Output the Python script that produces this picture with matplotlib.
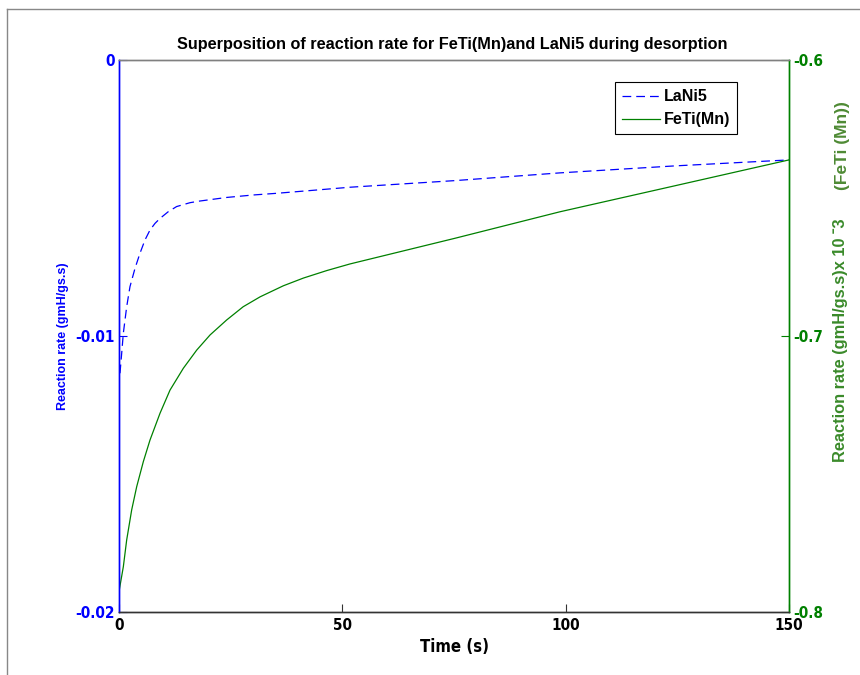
import matplotlib
matplotlib.use("Agg")
import matplotlib.pyplot as plt
from matplotlib import font_manager as fm
from matplotlib.lines import Line2D

# ---------------- data ----------------
t_lani5 = [0.22, 0.6, 0.97, 1.72, 2.46, 3.58, 4.70, 5.82, 6.94, 8.06, 9.18, 11.0,
           12.9, 15.9, 18.1, 24.1, 30.1, 35.3, 42.8, 51.7, 75.2, 98.7, 124.1, 150]
v_lani5 = [-0.01135, -0.01063, -0.00990, -0.00894, -0.00821, -0.00755, -0.00700,
           -0.00652, -0.00616, -0.00592, -0.00574, -0.00550, -0.00531, -0.00517,
           -0.00511, -0.00498, -0.00489, -0.00483, -0.00473, -0.00461, -0.00437,
           -0.00409, -0.00384, -0.00362]

t_feti = [0.0, 0.97, 1.72, 2.84, 3.96, 5.45, 6.94, 9.18, 11.42, 14.4, 17.4, 20.4,
          24.1, 27.8, 31.6, 36.8, 41.3, 46.5, 51.7, 75.2, 98.7, 124.1, 150]
v_feti = [-0.7926, -0.7836, -0.7739, -0.7630, -0.7546, -0.7455, -0.7377, -0.7280,
          -0.7196, -0.7117, -0.7051, -0.6996, -0.6942, -0.6894, -0.6858, -0.6818,
          -0.6790, -0.6763, -0.6739, -0.6646, -0.6550, -0.6457, -0.6362]

x_ticks = [0, 50, 100, 150]
left_ticks = [-0.02, -0.01, 0]
left_ticklabels = ["-0.02", "-0.01", "0"]
right_ticks = [-0.8, -0.7, -0.6]
right_ticklabels = ["-0.8", "-0.7", "-0.6"]

title = "Superposition of reaction rate for FeTi(Mn)and LaNi5 during desorption"
xlabel = "Time (s)"
ylabel_left = "Reaction rate (gmH/gs.s)"
ylabel_right = "Reaction rate (gmH/gs.s)x 10 \u02c93"
ylabel_right2 = "(FeTi (Mn))"

# ---------------- fonts ----------------
names = {f.name for f in fm.fontManager.ttflist}
SANS = "Liberation Sans" if "Liberation Sans" in names else "DejaVu Sans"
plt.rcParams["font.family"] = [SANS, "DejaVu Sans"]


def _weight_num(w):
    if isinstance(w, (int, float)):
        return w
    return {"bold": 700, "heavy": 800, "black": 900, "semibold": 600,
            "demibold": 600}.get(str(w).lower(), 400)


narrow_file = None
best = None
for f in fm.fontManager.ttflist:
    nm = f.name.lower()
    st = str(f.stretch).lower()
    is_narrow = ("narrow" in nm or "condensed" in nm or st in ("condensed", "semi-condensed",
                                                                "extra-condensed"))
    if not is_narrow or "mono" in nm or "serif" in nm and "sans" not in nm:
        continue
    if _weight_num(f.weight) < 600 or str(f.style) != "normal":
        continue
    score = 0 if "liberation sans narrow" in nm else (1 if "sans" in nm else 2)
    if best is None or score < best:
        best = score
        narrow_file = f.fname

if narrow_file:
    def NP(size):
        return fm.FontProperties(fname=narrow_file, size=size)
    TICK_SIZE = 11
else:
    def NP(size):
        return fm.FontProperties(family=SANS, weight="bold", size=size)
    TICK_SIZE = 10

BLUE = "#0000ff"
GREEN = "#008000"
LGREEN = "#3a8a2a"

W, H = 860, 675
fig = plt.figure(figsize=(W / 100, H / 100), dpi=100)
fig.patch.set_facecolor("white")

L, R, T, B = 119, 789, 60, 612
ax = fig.add_axes([L / W, 1 - B / H, (R - L) / W, (B - T) / H])
ax2 = ax.twinx()

ax.plot(t_lani5, v_lani5, color=BLUE, lw=0.9, ls=(0, (7, 4)), label="LaNi5")
ax2.plot(t_feti, v_feti, color=GREEN, lw=0.9, label="FeTi(Mn)")

ax.set_xlim(0, 150)
ax.set_ylim(-0.02, 0)
ax2.set_ylim(-0.8, -0.6)

ax.set_xticks(x_ticks)
ax.set_xticklabels([str(v) for v in x_ticks], fontproperties=NP(TICK_SIZE), color="black")
ax.set_yticks(left_ticks)
ax.set_yticklabels(left_ticklabels, fontproperties=NP(TICK_SIZE), color=BLUE)
ax2.set_yticks(right_ticks)
ax2.set_yticklabels(right_ticklabels, fontproperties=NP(TICK_SIZE), color=GREEN)

ax.tick_params(axis="x", direction="in", length=6, width=0.8, color="#333333", pad=4,
               top=False)
ax.tick_params(axis="y", direction="in", length=6, width=0.8, color=BLUE, pad=3)
ax2.tick_params(axis="y", direction="in", length=6, width=0.8, color=GREEN, pad=3)

for a in (ax, ax2):
    a.spines["top"].set_color("#808080")
    a.spines["bottom"].set_color("#333333")
    a.spines["left"].set_color(BLUE)
    a.spines["right"].set_color(GREEN)
    for s in a.spines.values():
        s.set_linewidth(1.0)

fig.text(452 / W, 1 - 44 / H, title, ha="center", va="center",
         fontweight="bold", fontsize=11.7)
ax.set_xlabel(xlabel, fontproperties=NP(12), labelpad=4)

fig.text(63 / W, 1 - 336 / H, ylabel_left, rotation=90, ha="center", va="center",
         color=BLUE, fontweight="bold", fontsize=9)
fig.text(840 / W, 1 - 462 / H, ylabel_right, rotation=90, ha="center", va="bottom",
         color=LGREEN, fontweight="bold", fontsize=11.8)
fig.text(843 / W, 1 - 190 / H, ylabel_right2, rotation=90, ha="center", va="bottom",
         color="#4e8a34", fontweight="bold", fontsize=12.5)

h1, l1 = ax.get_legend_handles_labels()
h2, l2 = ax2.get_legend_handles_labels()
leg = ax2.legend(h1 + h2, l1 + l2, loc="upper right",
                 bbox_to_anchor=(737 / W, 1 - 82 / H), bbox_transform=fig.transFigure,
                 borderaxespad=0, fancybox=False, framealpha=1, edgecolor="black",
                 borderpad=0.45, handlelength=2.4, handletextpad=0.2,
                 labelspacing=0.5, prop={"weight": "bold", "size": 11.5})
leg.get_frame().set_linewidth(0.8)

# screenshot frame lines (top and left)
fig.add_artist(Line2D([7 / W, 1], [1 - 9 / H, 1 - 9 / H], transform=fig.transFigure,
                      color="#888888", lw=1))
fig.add_artist(Line2D([7 / W, 7 / W], [0, 1 - 9 / H], transform=fig.transFigure,
                      color="#888888", lw=1))

fig.savefig("out.png", dpi=100)
